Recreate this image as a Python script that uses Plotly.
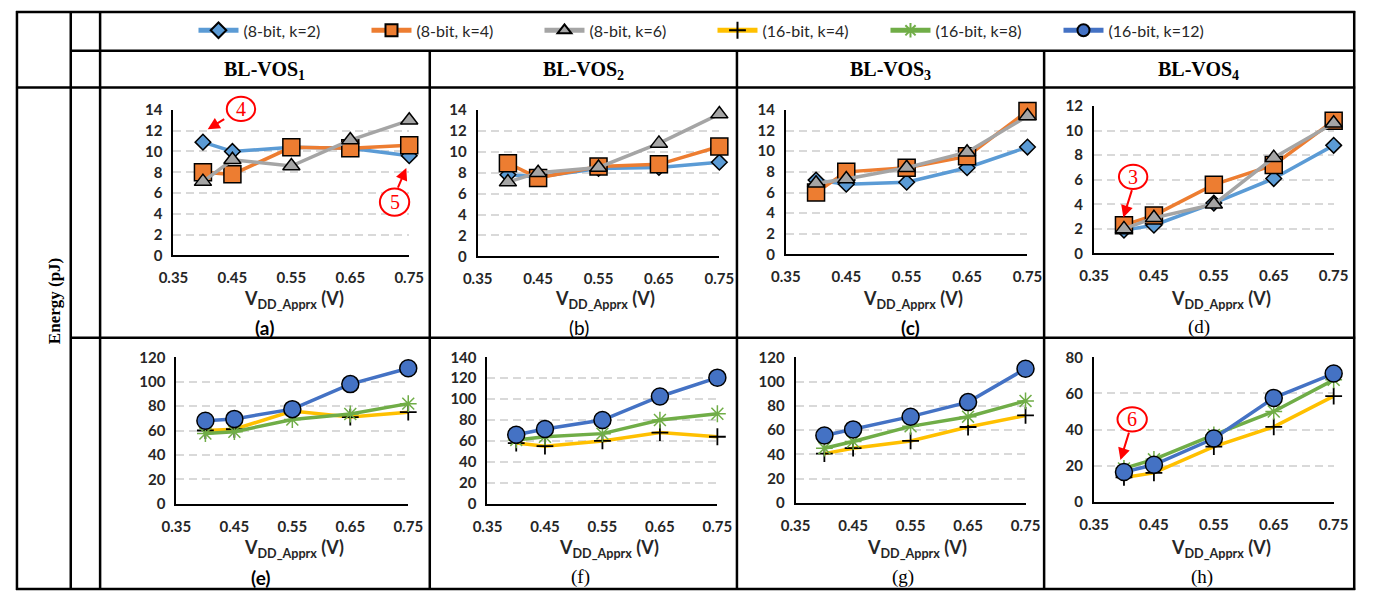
import plotly.graph_objects as go

W, H = 1379, 600

vdd = [0.40, 0.45, 0.55, 0.65, 0.75]

# 8-bit series (top row, panels a-d)
a_k2 = [10.9, 10.0, 10.4, 10.3, 9.6]
a_k4 = [8.0, 7.8, 10.4, 10.3, 10.6]
a_k6 = [7.1, 9.2, 8.6, 11.1, 13.0]

b_k2 = [7.8, 7.6, 8.4, 8.5, 9.0]
b_k4 = [8.9, 7.5, 8.6, 8.8, 10.5]
b_k6 = [7.1, 8.0, 8.5, 10.8, 13.6]

c_k2 = [7.2, 6.8, 7.0, 8.4, 10.4]
c_k4 = [6.0, 8.0, 8.4, 9.5, 13.9]
c_k6 = [6.9, 7.3, 8.4, 9.9, 13.4]

d_k2 = [1.9, 2.3, 4.1, 6.1, 8.8]
d_k4 = [2.3, 3.1, 5.6, 7.2, 10.8]
d_k6 = [2.0, 2.9, 4.0, 7.8, 10.6]

# 16-bit series (bottom row, panels e-h)
e_k4 = [60, 61, 76, 71, 75]
e_k8 = [57.5, 59, 69, 73.5, 82]
e_k12 = [68, 69.5, 77.5, 98, 111]

f_k4 = [58, 55, 60, 68, 64]
f_k8 = [61, 64, 67, 80, 86]
f_k12 = [66, 71.5, 80, 102.5, 120.5]

g_k4 = [40.5, 45, 51, 62.5, 72]
g_k8 = [45, 50.5, 63, 71, 84]
g_k12 = [55.5, 60.5, 71, 83, 110.5]

h_k4 = [13.5, 16, 30.5, 41.5, 58.5]
h_k8 = [18.5, 23.5, 37, 50, 67.5]
h_k12 = [16.5, 20.5, 35, 57.5, 71]

series_names = ["(8-bit, k=2)", "(8-bit, k=4)", "(8-bit, k=6)",
                "(16-bit, k=4)", "(16-bit, k=8)", "(16-bit, k=12)"]
col_titles = ["BL-VOS<sub>1</sub>", "BL-VOS<sub>2</sub>", "BL-VOS<sub>3</sub>", "BL-VOS<sub>4</sub>"]
panel_labels = ["(a)", "(b)", "(c)", "(d)", "(e)", "(f)", "(g)", "(h)"]
y_max = [14, 14, 14, 12, 120, 140, 120, 80]
y_dtick = [2, 2, 2, 2, 20, 20, 20, 20]
x_ticks = [0.35, 0.45, 0.55, 0.65, 0.75]

top_data = [(a_k2, a_k4, a_k6), (b_k2, b_k4, b_k6), (c_k2, c_k4, c_k6), (d_k2, d_k4, d_k6)]
bot_data = [(e_k4, e_k8, e_k12), (f_k4, f_k8, f_k12), (g_k4, g_k8, g_k12), (h_k4, h_k8, h_k12)]

styles = [
    dict(line=dict(color="#5B9BD5", width=3.5),
         marker=dict(symbol="diamond", size=12, color="#5B9BD5", line=dict(color="black", width=1.5))),
    dict(line=dict(color="#ED7D31", width=3.5),
         marker=dict(symbol="square", size=17, color="#ED7D31", line=dict(color="black", width=1.5))),
    dict(line=dict(color="#A5A5A5", width=3.5),
         marker=dict(symbol="triangle-up", size=15, color="#A5A5A5", line=dict(color="black", width=1.5))),
    dict(line=dict(color="#FFC000", width=3.5),
         marker=dict(symbol="cross-thin", size=12, color="black", line=dict(color="black", width=1.8))),
    dict(line=dict(color="#70AD47", width=3.5),
         marker=dict(symbol="asterisk", size=14, color="#70AD47", line=dict(color="#70AD47", width=1.5))),
    dict(line=dict(color="#4472C4", width=3.5),
         marker=dict(symbol="circle", size=17, color="#4472C4", line=dict(color="black", width=1.5))),
]

def PX(x):
    return x / W

def PY(y):
    return 1 - y / H

# plot area positions in pixels: (x0, x1, ytop, ybottom)
boxes = [
    (162, 403, 103, 253), (473, 720, 103, 254), (788, 1035, 103, 252), (1103, 1348, 99, 251),
    (165, 402, 358, 509), (483, 718, 358, 509), (798, 1033, 358, 508), (1103, 1348, 358, 507),
]

fig = go.Figure()
shown = set()
for p in range(8):
    if p < 4:
        data = top_data[p]
        sidx = [0, 1, 2]
    else:
        data = bot_data[p - 4]
        sidx = [3, 4, 5]
    ax = "" if p == 0 else str(p + 1)
    for vals, si in zip(data, sidx):
        st = styles[si]
        fig.add_trace(go.Scatter(
            x=vdd, y=vals, mode="lines+markers", name=series_names[si],
            legendgroup=series_names[si], showlegend=si not in shown,
            line=st["line"], marker=st["marker"], cliponaxis=False,
            xaxis="x" + ax, yaxis="y" + ax,
        ))
        shown.add(si)

tickfont = dict(family="Lato", size=15, color="#262626", weight="bold")
layout_axes = {}
for p, (x0, x1, yt, yb) in enumerate(boxes):
    n = "" if p == 0 else str(p + 1)
    layout_axes["xaxis" + n] = dict(
        domain=[PX(x0), PX(x1)], anchor="y" + n, range=[0.35, 0.75],
        tickvals=x_ticks, ticktext=["%.2f" % v for v in x_ticks],
        showgrid=False, zeroline=False, showline=True, linecolor="black", linewidth=2,
        ticks="", tickfont=tickfont, ticklabelstandoff=8, fixedrange=True,
    )
    layout_axes["yaxis" + n] = dict(
        domain=[PY(yb), PY(yt)], anchor="x" + n, range=[0, y_max[p]], dtick=y_dtick[p],
        showgrid=True, gridcolor="#d9d9d9", gridwidth=1.5, griddash="8px,5px",
        zeroline=False, showline=True, linecolor="black", linewidth=2,
        ticks="", tickfont=tickfont, ticklabelstandoff=6, fixedrange=True,
    )

shapes = []
def hline(y, x0, x1):
    shapes.append(dict(type="line", xref="paper", yref="paper", x0=PX(x0), x1=PX(x1),
                       y0=PY(y), y1=PY(y), line=dict(color="black", width=2.5)))
def vline(x, y0, y1):
    shapes.append(dict(type="line", xref="paper", yref="paper", x0=PX(x), x1=PX(x),
                       y0=PY(y0), y1=PY(y1), line=dict(color="black", width=2.5)))

# table grid
hline(2, 1, 1370)
hline(597, 1, 1370)
vline(2, 1, 598)
vline(1369, 1, 598)
vline(57, 1, 598)
vline(87, 1, 598)
for xv in (424, 738, 1052):
    vline(xv, 42, 598)
hline(42, 57, 1370)
hline(80, 1, 1370)
hline(338, 57, 1370)

annotations = []
serif = "Liberation Serif"
# column titles
for cx, t in zip([255.5, 581, 895, 1210], col_titles):
    annotations.append(dict(text=t, x=PX(cx), y=PY(62), xref="paper", yref="paper",
                            showarrow=False, xanchor="center", yanchor="middle",
                            font=dict(family=serif, size=20, color="black", weight="bold")))

# panel labels
lab_pos = [(255, 327), (577, 327), (915, 327), (1210, 327),
           (251, 585), (578, 585), (908, 585), (1213, 585)]
lab_fonts = [dict(family="Lato", weight="bold"), dict(family="Lato", weight="normal"),
             dict(family="Lato", weight="bold"), dict(family=serif, weight="normal"),
             dict(family="Lato", weight="bold"), dict(family=serif, weight="normal"),
             dict(family=serif, weight="normal"), dict(family=serif, weight="normal")]
for (lx, ly), lab, lf in zip(lab_pos, panel_labels, lab_fonts):
    annotations.append(dict(text=lab, x=PX(lx), y=PY(ly), xref="paper", yref="paper",
                            showarrow=False, xanchor="center", yanchor="middle",
                            font=dict(size=19, color="black", **lf)))

# x-axis titles
xt_pos = [(285, 298), (603, 298), (918, 298), (1233, 298),
          (285, 555), (607, 555), (922, 555), (1233, 555)]
for tx, ty in xt_pos:
    annotations.append(dict(text="V<sub>DD_Apprx</sub> (V)", x=PX(tx), y=PY(ty),
                            xref="paper", yref="paper", showarrow=False,
                            xanchor="center", yanchor="middle",
                            font=dict(family="Lato", size=18, color="#262626", weight="bold")))

# y title
annotations.append(dict(text="Energy (pJ)", x=PX(40), y=PY(300), xref="paper", yref="paper",
                        showarrow=False, textangle=-90, xanchor="center", yanchor="middle",
                        font=dict(family=serif, size=17, color="black", weight="bold")))

# red circled callouts: (label, cx, cy, rx, ry, tail_x, tail_y, tip_x, tip_y)
callouts = [
    ("4", 231, 102, 14.5, 12.5, 215, 112, 197, 123),
    ("5", 388, 198, 15, 14, 391, 184, 400, 163),
    ("3", 1143, 172, 14.5, 12.5, 1142, 185, 1133, 214),
    ("6", 1142, 422, 15, 12.5, 1139, 435, 1130, 464),
]
for lab, cx, cy, rx, ry, tx, ty, hx, hy in callouts:
    shapes.append(dict(type="circle", xref="paper", yref="paper",
                       x0=PX(cx - rx), x1=PX(cx + rx), y0=PY(cy + ry), y1=PY(cy - ry),
                       line=dict(color="red", width=2), fillcolor="white", layer="above"))
    annotations.append(dict(text=lab, x=PX(cx), y=PY(cy), xref="paper", yref="paper",
                            showarrow=False, xanchor="center", yanchor="middle",
                            font=dict(family=serif, size=20, color="red")))
    annotations.append(dict(text="", x=PX(hx), y=PY(hy), xref="paper", yref="paper",
                            ax=tx - hx, ay=ty - hy, axref="pixel", ayref="pixel",
                            showarrow=True, arrowhead=2, arrowsize=1.2, arrowwidth=2,
                            arrowcolor="red", standoff=0, startstandoff=0))

fig.update_layout(
    width=W, height=H, margin=dict(l=0, r=0, t=0, b=0),
    paper_bgcolor="white", plot_bgcolor="white",
    showlegend=True,
    legend=dict(orientation="h", x=PX(713), xanchor="center", y=PY(21), yanchor="middle",
                font=dict(family="Lato", size=16, color="#262626"),
                itemsizing="constant", entrywidth=118, bgcolor="rgba(0,0,0,0)",
                tracegroupgap=0, itemwidth=40),
    shapes=shapes, annotations=annotations,
    **layout_axes,
)

fig.write_html("out.html")
